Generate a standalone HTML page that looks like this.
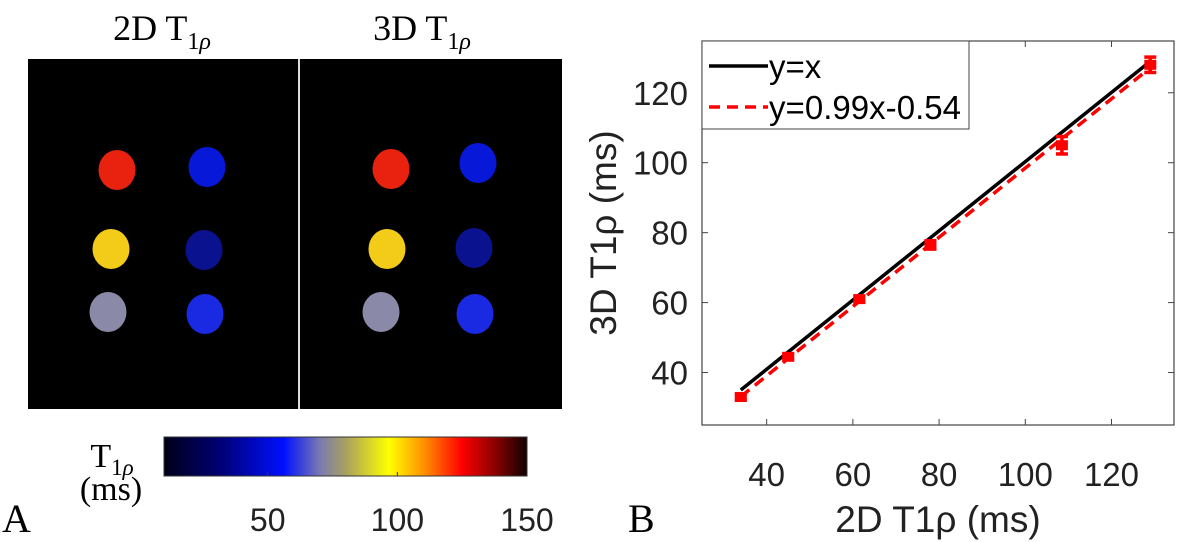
<!DOCTYPE html>
<html><head><meta charset="utf-8"><style>
body{margin:0;background:#fff;width:1181px;height:542px;overflow:hidden}
svg{display:block}
.serif{font-family:"Liberation Serif",serif}
.sans{font-family:"Liberation Sans",sans-serif}
</style></head><body>
<svg id="fig" width="1181" height="542" xmlns="http://www.w3.org/2000/svg">
<defs>
<linearGradient id="cmap" x1="0" x2="1" y1="0" y2="0">
<stop offset="0" stop-color="#000018"/>
<stop offset="0.15" stop-color="#000070"/>
<stop offset="0.33" stop-color="#0010ff"/>
<stop offset="0.43" stop-color="#7a7ab0"/>
<stop offset="0.5" stop-color="#a8a060"/>
<stop offset="0.62" stop-color="#ffff00"/>
<stop offset="0.72" stop-color="#ff8c00"/>
<stop offset="0.82" stop-color="#ff0000"/>
<stop offset="0.92" stop-color="#800000"/>
<stop offset="1" stop-color="#100000"/>
</linearGradient>
</defs>
<g>
<text class="serif" x="162" y="40" font-size="36" text-anchor="middle">2D T<tspan font-size="24" dy="9">1<tspan font-style="italic">ρ</tspan></tspan></text>
<text class="serif" x="422" y="40" font-size="36" text-anchor="middle">3D T<tspan font-size="24" dy="9">1<tspan font-style="italic">ρ</tspan></tspan></text>
<rect x="28" y="59" width="270" height="350" fill="#000"/>
<rect x="298" y="59" width="2" height="350" fill="#ddd"/>
<rect x="300" y="59" width="262" height="350" fill="#000"/>
<g id="phantoms"></g>
<text class="serif" x="112" y="467" font-size="34" text-anchor="middle">T<tspan font-size="23" dy="8">1<tspan font-style="italic">ρ</tspan></tspan></text>
<text class="serif" x="111" y="500" font-size="34" text-anchor="middle">(ms)</text>
<rect x="164" y="437" width="363" height="39" fill="url(#cmap)" stroke="#333" stroke-width="1"/>
<g id="cbticks"></g>
<text class="serif" x="2" y="532" font-size="40">A</text>
</g>
<g>
<rect x="702" y="41" width="472" height="384" fill="#fff" stroke="#444" stroke-width="1.2"/>
<g id="axes"></g>
<g id="marks"></g>
<g>
<rect x="702" y="41" width="267" height="88" fill="#fff" stroke="#444" stroke-width="1"/>
<line x1="709" y1="66" x2="768" y2="66" stroke="#000" stroke-width="3.5"/>
<text class="sans" x="769" y="78" font-size="33">y=x</text>
<line x1="709" y1="107" x2="768" y2="107" stroke="#f00" stroke-width="3.5" stroke-dasharray="11,7"/>
<text class="sans" x="769" y="119" font-size="33" textLength="192">y=0.99x-0.54</text>
</g>
<text class="sans" x="938" y="532" font-size="37" text-anchor="middle" fill="#222">2D T1ρ (ms)</text>
<text class="sans" x="0" y="0" font-size="37" text-anchor="middle" fill="#222" transform="translate(616,233) rotate(-90)">3D T1ρ (ms)</text>
<text class="serif" x="628" y="532" font-size="40">B</text>
</g>
</svg>
<script>
const NS="http://www.w3.org/2000/svg";
const xTicks=[40,60,80,100,120];
const yTicks=[40,60,80,100,120];
const xVals=[34,45,61.5,78,108.5,129];
const yVals=[33,44.5,61,76.5,105,128];
const yErr=[0.8,0.8,0.8,1.2,2.5,2.2];
const fitSlope=[0.99], fitIntercept=[-0.54];
const cbTicks=[50,100,150];
const phantomColors=["#e8220e","#0818d8","#f2cc18","#0a1290","#8a8aa8","#1a2ae2"];
const xmin=25,xmax=134.5,ymin=25,ymax=134.8;
const X=v=>702+(v-xmin)/(xmax-xmin)*472;
const Y=v=>425-(v-ymin)/(ymax-ymin)*384;
function mk(t,a,p){const e=document.createElementNS(NS,t);for(const k in a)e.setAttribute(k,a[k]);(p||document.getElementById('fig')).appendChild(e);return e;}
const axes=document.getElementById('axes'),marks=document.getElementById('marks');
xTicks.forEach(v=>{
 const l=mk('line',{x1:X(v),x2:X(v),y1:425,y2:419,stroke:'#444'},axes);
 
 
 const l2=mk('line',{x1:X(v),x2:X(v),y1:41,y2:47,stroke:'#444'},axes);
 
 
 const t=mk('text',{x:X(v),y:486,'font-size':33,'text-anchor':'middle',class:'sans',fill:'#222'},axes);t.textContent=v;
 
 
});
yTicks.forEach(v=>{
 const l=mk('line',{x1:702,x2:708,y1:Y(v),y2:Y(v),stroke:'#444'},axes);
 
 
 const l2=mk('line',{x1:1174,x2:1168,y1:Y(v),y2:Y(v),stroke:'#444'},axes);
 
 
 const t=mk('text',{x:688,y:Y(v)+12,'font-size':33,'text-anchor':'end',class:'sans',fill:'#222'},axes);t.textContent=v;
 
 
});
const x0=xVals[0],x1=xVals[xVals.length-1];
const idl=mk('line',{x1:X(x0),y1:Y(x0+1),x2:X(x1),y2:Y(x1),stroke:'#000','stroke-width':3.5},marks);


const fl=mk('line',{x1:X(x0),y1:Y(fitSlope[0]*x0+fitIntercept[0]),x2:X(x1),y2:Y(fitSlope[0]*x1+fitIntercept[0]),stroke:'#f00','stroke-width':3.5,'stroke-dasharray':'11,7'},marks);


xVals.forEach((v,i)=>{
 const g=mk('g',{},marks);
 
 
 const cx=X(v),cy=Y(yVals[i]),e=yErr[i];
 mk('line',{x1:cx,x2:cx,y1:Y(yVals[i]+e),y2:Y(yVals[i]-e),stroke:'#f00','stroke-width':3.5},g);
 mk('line',{x1:cx-6,x2:cx+6,y1:Y(yVals[i]+e),y2:Y(yVals[i]+e),stroke:'#f00','stroke-width':3.5},g);
 mk('line',{x1:cx-6,x2:cx+6,y1:Y(yVals[i]-e),y2:Y(yVals[i]-e),stroke:'#f00','stroke-width':3.5},g);
 mk('rect',{x:cx-6,y:cy-5,width:12,height:10,fill:'#f00'},g);
});
const CB=v=>164+(v-10)/(150-10)*363;
const cbt=document.getElementById('cbticks');
cbTicks.forEach(v=>{
 const l=mk('line',{x1:CB(v),x2:CB(v),y1:476,y2:472,stroke:'#333'},cbt);
 
 
 const t=mk('text',{x:CB(v),y:531,'font-size':32,'text-anchor':'middle',class:'sans',fill:'#222'},cbt);t.textContent=v;
 
 
});
const ph=document.getElementById('phantoms');
const pos2D=[[117,170],[207,167],[111,249],[204,250],[108,312],[205,314]];
const pos3D=[[391,169],[478,163],[387,249],[474,248],[381,312],[475,314]];
pos2D.forEach((p,i)=>{
 const c=mk('ellipse',{cx:p[0],cy:p[1],rx:18.5,ry:20,fill:phantomColors[i]},ph);
 
 
});
pos3D.forEach((p,i)=>{
 const c=mk('ellipse',{cx:p[0],cy:p[1],rx:18.5,ry:20,fill:phantomColors[i]},ph);
 
 
});
</script>
</body></html>
